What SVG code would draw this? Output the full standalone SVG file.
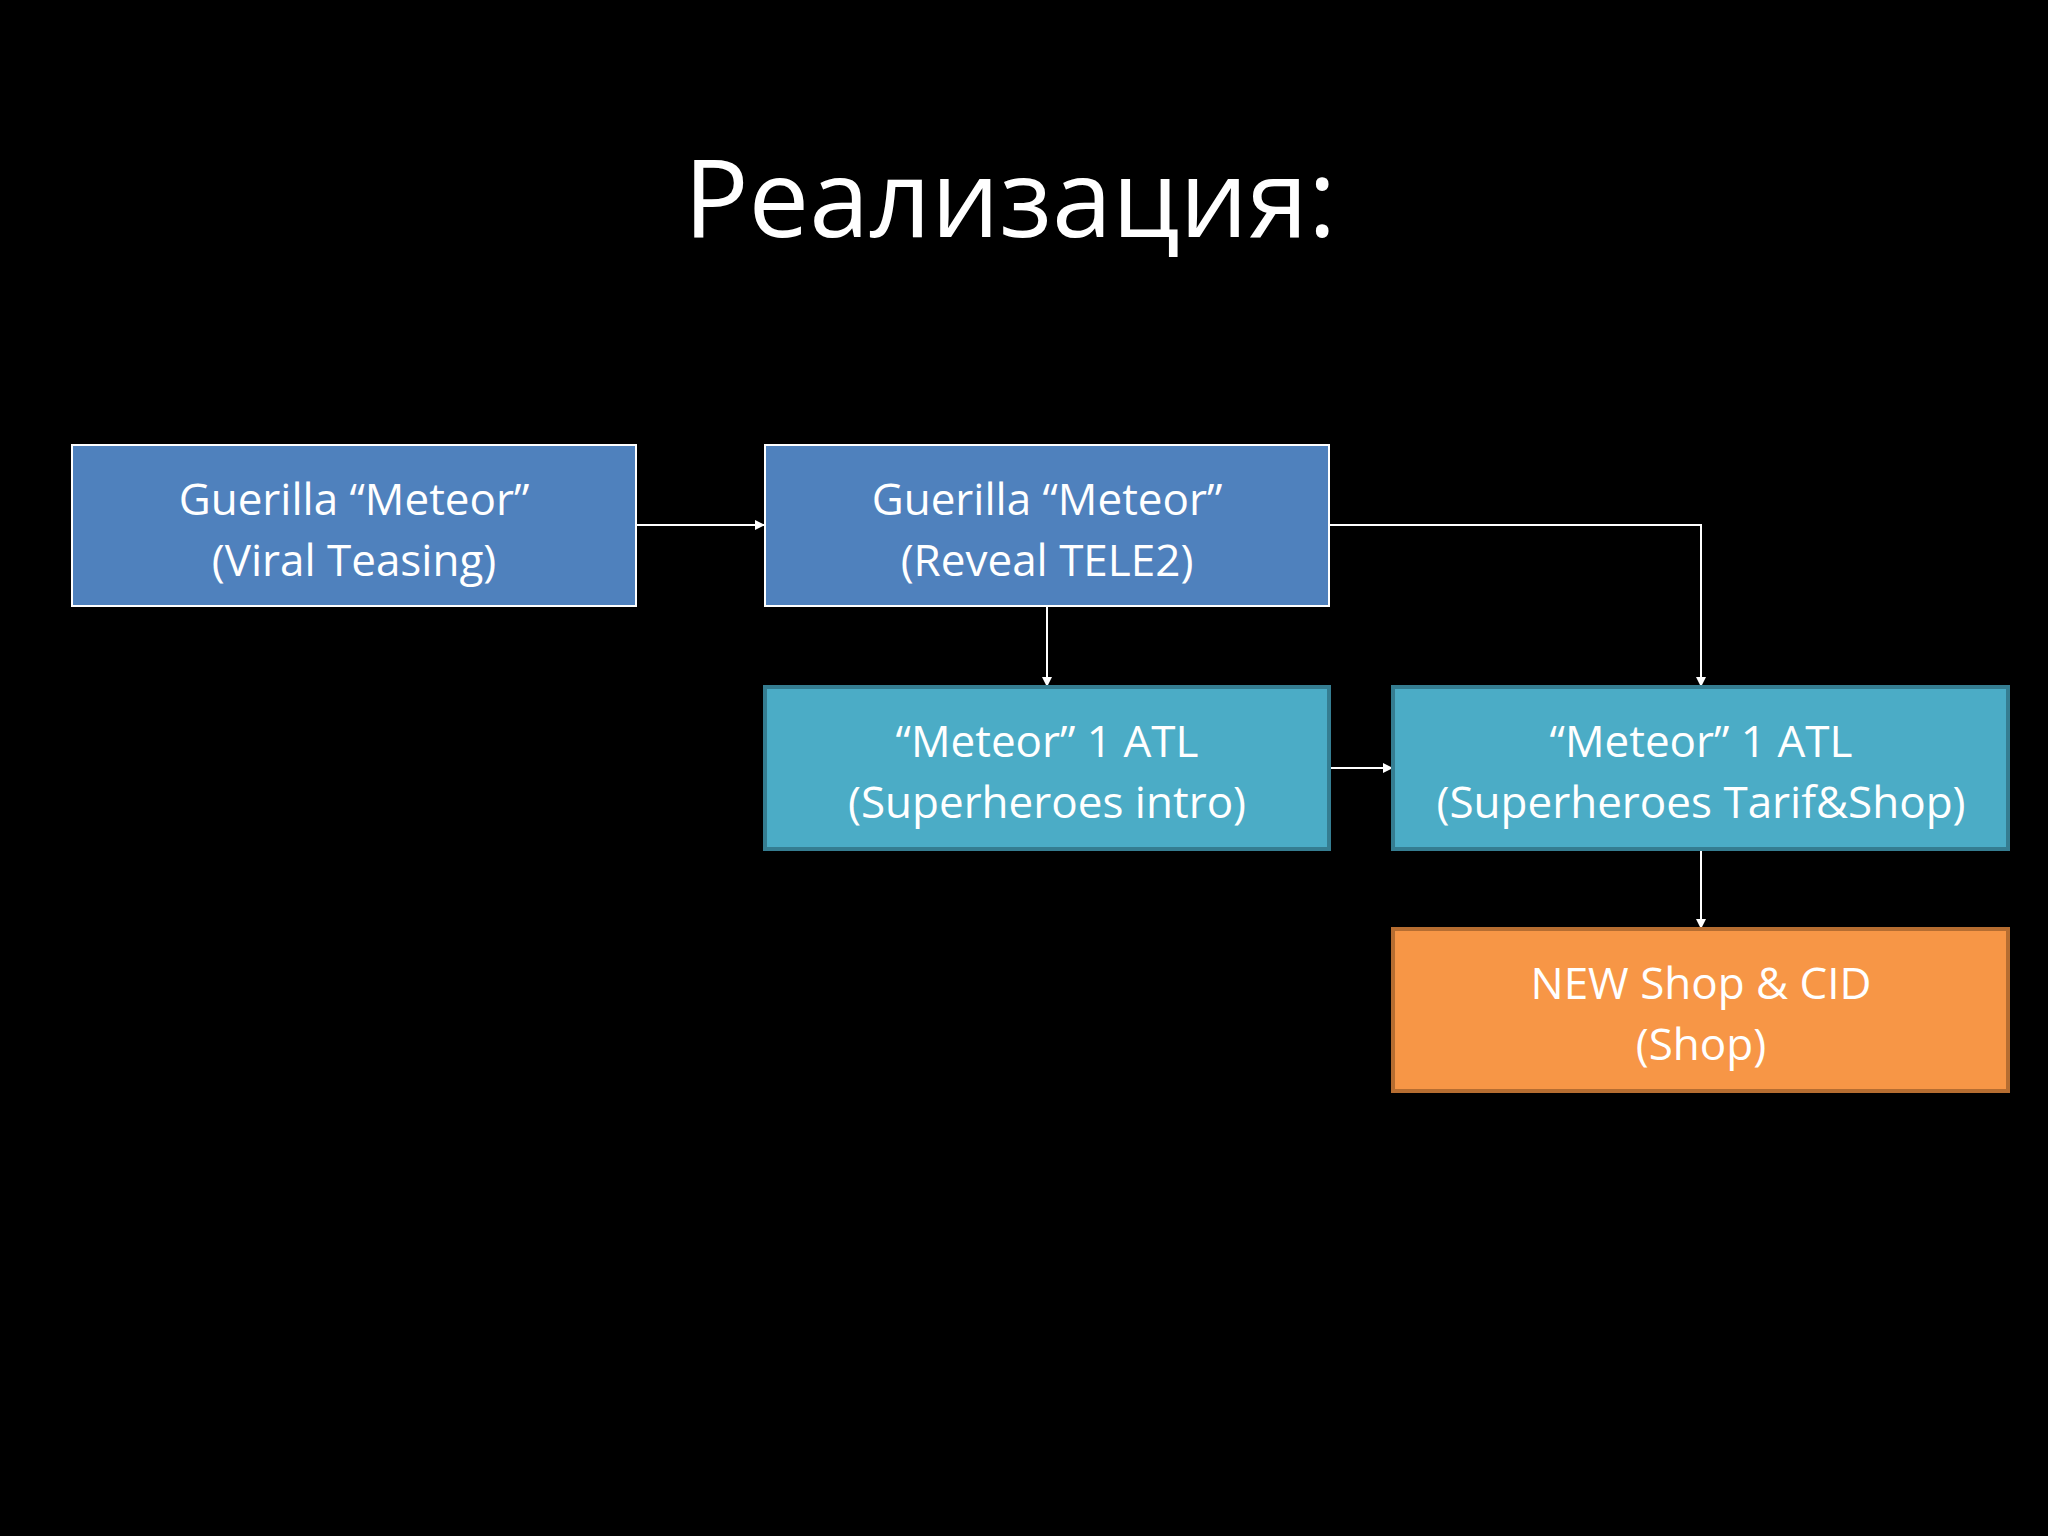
<svg xmlns="http://www.w3.org/2000/svg" width="2048" height="1536" viewBox="0 0 2048 1536">
<defs>
<style>
.t{font-family:"Open Sans","Noto Sans",sans-serif;fill:#fff;text-anchor:middle;font-size:44px}
.b{fill:#4f81bd;stroke:#fff;stroke-width:2}
.c{fill:#4bacc6;stroke:#357d91;stroke-width:4}
.o{fill:#f79646;stroke:#b66d31;stroke-width:4}
.l{fill:none;stroke:#fff;stroke-width:2;marker-end:url(#a)}
</style>
<marker id="a" markerWidth="10" markerHeight="10" refX="9" refY="5" orient="auto" markerUnits="userSpaceOnUse" viewBox="0 0 10 10"><path d="M0,0L10,5L0,10z" fill="#fff"/></marker>
</defs>
<rect width="2048" height="1536" fill="#000"/>
<text x="1010" y="237" class="t" style="font-size:108px">Реализация:</text>
<g id="connectors">
<path class="l" d="M636,525H764"/>
<path class="l" d="M1047,606V686"/>
<path class="l" d="M1329,525H1701V686"/>
<path class="l" d="M1331,768H1392"/>
<path class="l" d="M1701,849V928"/>
</g>
<g id="n1"><rect class="b" x="72" y="445" width="564" height="161"/><text class="t" x="354" y="515">Guerilla “Meteor”</text><text class="t" x="354" y="576">(Viral Teasing)</text></g>
<g id="n2"><rect class="b" x="765" y="445" width="564" height="161"/><text class="t" x="1047" y="515">Guerilla “Meteor”</text><text class="t" x="1047" y="576">(Reveal TELE2)</text></g>
<g id="n3"><rect class="c" x="765" y="687" width="564" height="162"/><text class="t" x="1047" y="757">“Meteor” 1 ATL</text><text class="t" x="1047" y="818">(Superheroes intro)</text></g>
<g id="n4"><rect class="c" x="1393" y="687" width="615" height="162"/><text class="t" x="1701" y="757">“Meteor” 1 ATL</text><text class="t" x="1701" y="818">(Superheroes Tarif&amp;Shop)</text></g>
<g id="n5"><rect class="o" x="1393" y="929" width="615" height="162"/><text class="t" x="1701" y="999">NEW Shop &amp; CID</text><text class="t" x="1701" y="1060">(Shop)</text></g>
</svg>
